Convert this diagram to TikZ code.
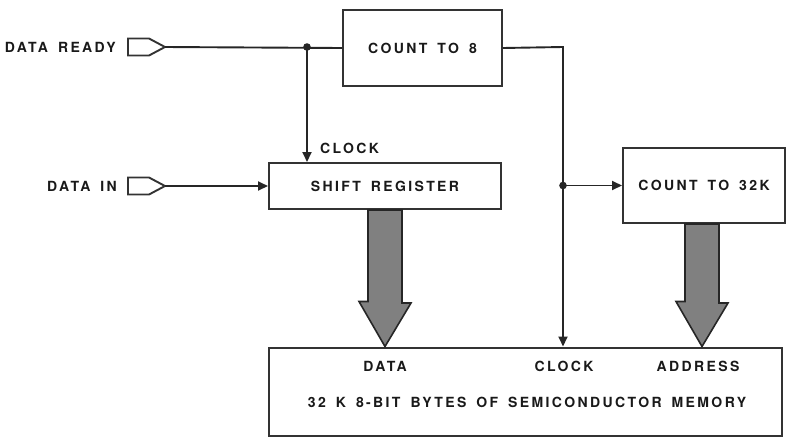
\documentclass[tikz,border=0pt]{standalone}
\usepackage{fontspec}
\newfontfamily\lbl[LetterSpace=17,WordSpace=1.6]{TeX Gyre Heros}
\usetikzlibrary{arrows.meta,calc}
\begin{document}
\begin{tikzpicture}[x=1pt,y=-1pt,
  every node/.style={font=\lbl\bfseries\fontsize{14}{15}\selectfont, inner sep=0pt, text=black!90},
  blk/.style={draw=black!80, line width=2pt, fill=white},
  wire/.style={draw=black!85, line width=1.9pt},
  tip/.style={-{Triangle[length=10pt,width=9pt]}},
  port/.style={draw=black!80, line width=1.9pt, fill=white},
  fatarrow/.style={draw=black!85, line width=1.6pt, fill=black!50},
  dot/.style={fill=black!85}]
\useasboundingbox (0,0) rectangle (789,437);
% boxes
\node[blk, minimum width=159pt, minimum height=76pt] (count8) at (422.5,48) {COUNT TO 8};
\node[blk, minimum width=232pt, minimum height=46pt] (shift) at (385,186) {SHIFT REGISTER};
\node[blk, minimum width=162pt, minimum height=75pt] (count32) at (704,185.5) {COUNT TO 32K};
\node[blk, minimum width=513pt, minimum height=88pt] (mem) at (525.5,391.5) {};
\node (mdata) at (385,366) {DATA};
\node (mclock) at (564,366) {CLOCK};
\node (maddr) at (698,366) {ADDRESS};
\node (mtitle) at (527,402) {32 K 8-BIT BYTES OF SEMICONDUCTOR MEMORY};
% input ports
\draw[port] (128,38.5) -- (149,38.5) -- (165,47) -- (149,55.5) -- (128,55.5) -- cycle;
\coordinate (drtip) at (165,47);
\node[anchor=east] (lready) at (116,47) {DATA READY};
\draw[port] (128,177.5) -- (149,177.5) -- (165,186) -- (149,194.5) -- (128,194.5) -- cycle;
\coordinate (ditip) at (165,186);
\node[anchor=east] (lin) at (117,186) {DATA IN};
% clock label
\node[anchor=west] (lclock) at (320,148) {CLOCK};
% wires
\coordinate (j1) at (307,47);
\draw[wire] (drtip) -- (count8.west);
\draw[wire,tip] (j1) -- (j1 |- shift.north);
\fill[dot] (j1) circle (3.8pt);
\draw[wire,tip] (ditip) -- (shift.west);
\coordinate (c1) at (563,47);
\coordinate (j2) at (563,185.5);
\draw[wire,tip] (count8.east) -- (c1) -- (c1 |- mem.north);
\draw[wire,tip] (j2) -- (count32.west);
\fill[dot] (j2) circle (3.8pt);
% fat arrows
\draw[fatarrow] (shift.south) ++(-17,0) -- ++(34,0) -- ++(0,93) -- ++(9,0) -- (shift.south |- mem.north) -- ++(-26,-45) -- ++(9,0) -- cycle;
\draw[fatarrow] ($(count32.south)+(-2,0)$) ++(-17,0) -- ++(34,0) -- ++(0,79) -- ++(9,0) -- ($(count32.south |- mem.north)+(-2,0)$) -- ++(-26,-45) -- ++(9,0) -- cycle;
\end{tikzpicture}
\end{document}
